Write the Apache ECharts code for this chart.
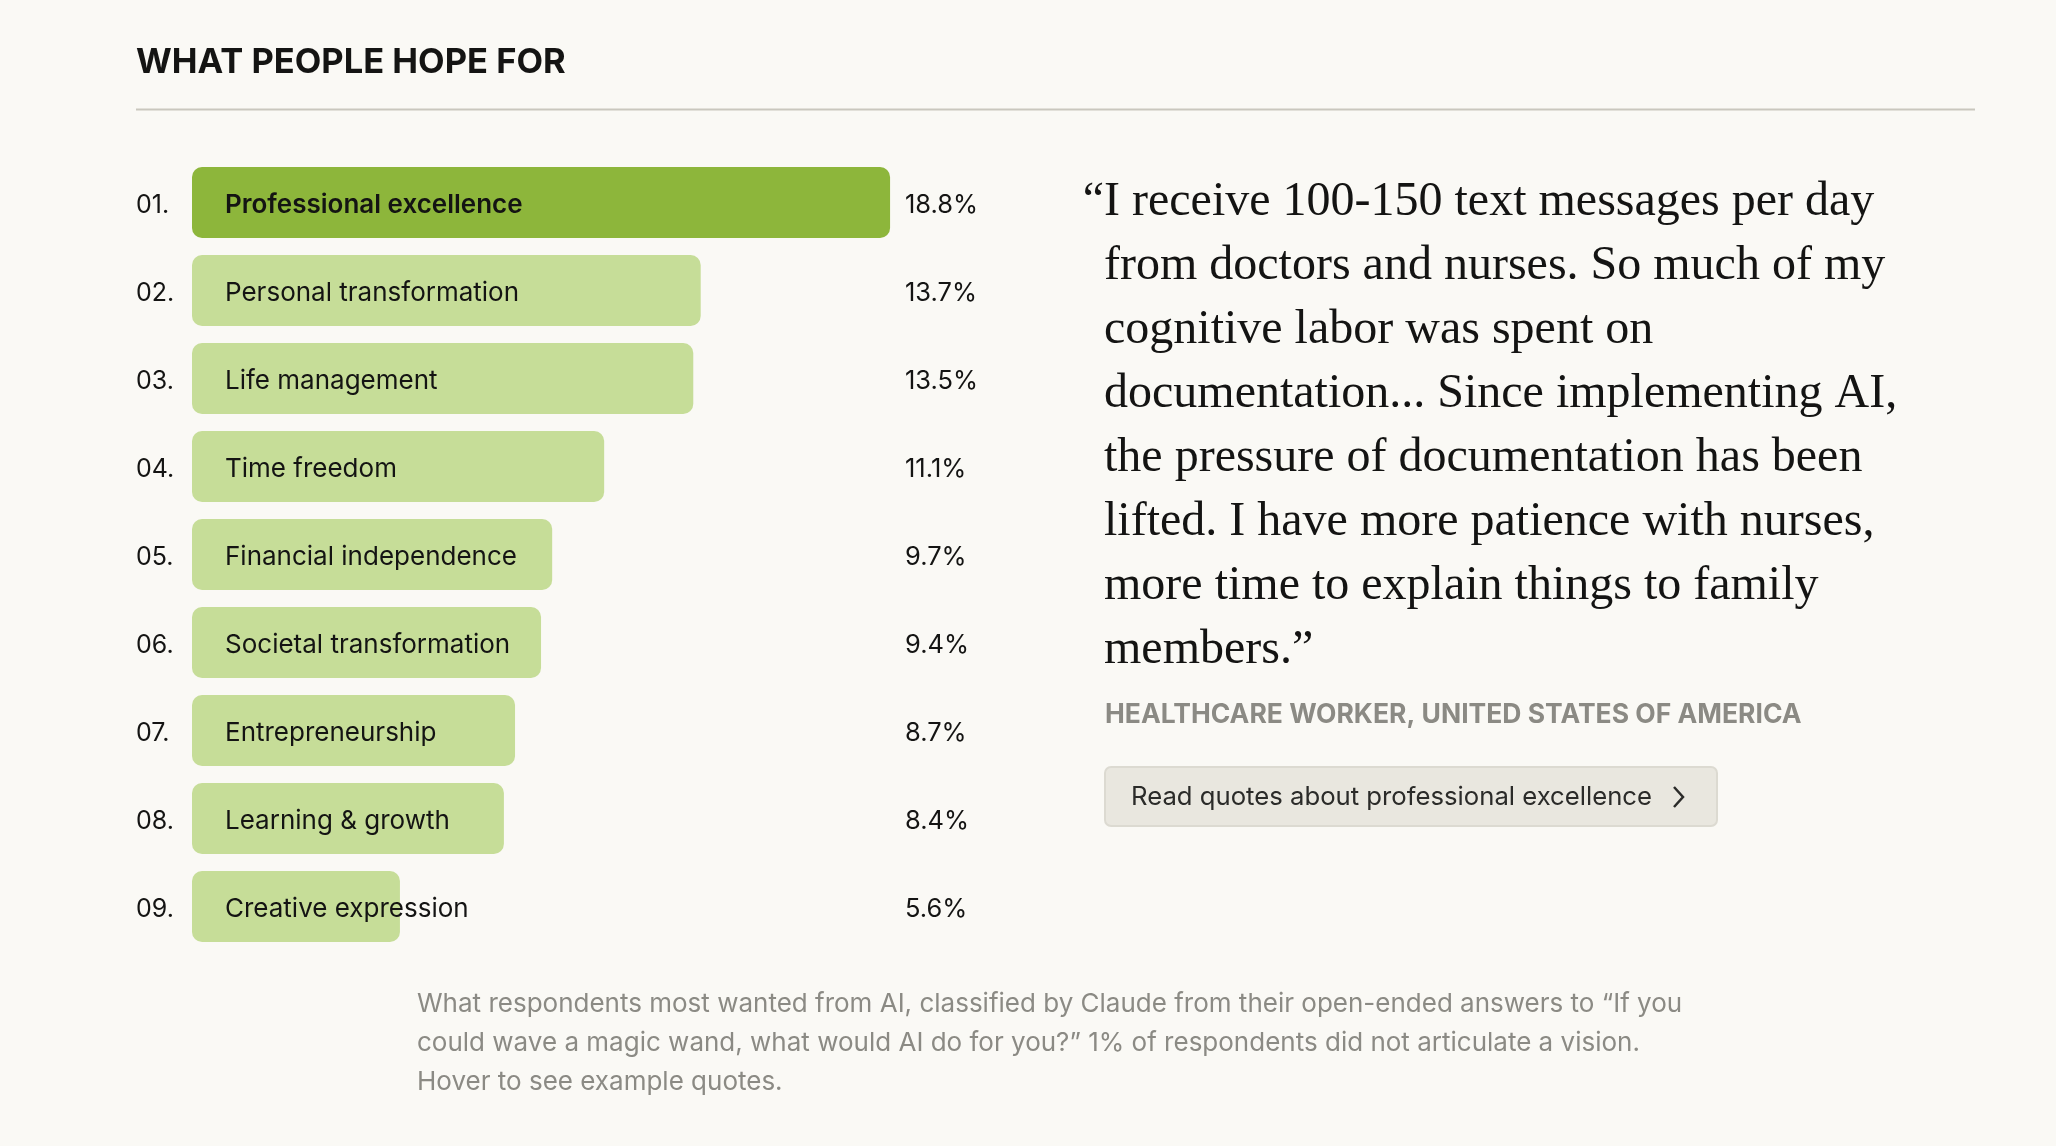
<!DOCTYPE html>
<html>
<head>
<meta charset="utf-8">
<script src="https://cdn.jsdelivr.net/npm/echarts@6/dist/echarts.min.js"></script>
<style>
html,body{margin:0;padding:0;background:#faf9f5;}
#chart{width:2056px;height:1146px;}
</style>
</head>
<body>
<div id="chart"></div>
<script>
const ranks = ['01.', '02.', '03.', '04.', '05.', '06.', '07.', '08.', '09.'];
const categories = ['Professional excellence', 'Personal transformation', 'Life management', 'Time freedom', 'Financial independence', 'Societal transformation', 'Entrepreneurship', 'Learning & growth', 'Creative expression'];
const values = [18.8, 13.7, 13.5, 11.1, 9.7, 9.4, 8.7, 8.4, 5.6];
const valueLabels = values.map(v => v.toFixed(1) + '%');
const titleText = 'WHAT PEOPLE HOPE FOR';
const quoteLines = [
  'I receive 100-150 text messages per day',
  'from doctors and nurses. So much of my',
  'cognitive labor was spent on',
  'documentation... Since implementing AI,',
  'the pressure of documentation has been',
  'lifted. I have more patience with nurses,',
  'more time to explain things to family',
  'members.\u201d'
];
const attribution = 'HEALTHCARE WORKER, UNITED STATES OF AMERICA';
const buttonText = 'Read quotes about professional excellence';
const captionLines = [
  'What respondents most wanted from AI, classified by Claude from their open-ended answers to \u201cIf you',
  'could wave a magic wand, what would AI do for you?\u201d 1% of respondents did not articulate a vision.',
  'Hover to see example quotes.'
];

const SANS = 'Inter, "Noto Sans", sans-serif';
const SERIF = '"Liberation Serif", "DejaVu Serif", serif';
const DARK = '#141413';
const GRAY = '#8b8a84';

const chart = echarts.init(document.getElementById('chart'), null, {renderer: 'canvas'});

const option = {
  backgroundColor: '#faf9f5',
  animation: false,
  grid: {left: 192, top: 158.5, width: 705.5, height: 792, containLabel: false},
  xAxis: {type: 'value', min: 0, max: 19, show: false},
  yAxis: [
    {
      type: 'category', data: ranks, inverse: true, position: 'left',
      axisLine: {show: false}, axisTick: {show: false}, splitLine: {show: false},
      axisLabel: {
        align: 'left', margin: 56, formatter: v => '{a|' + v + '}',
        rich: {a: {color: DARK, fontFamily: SANS, fontSize: 25, padding: [5, 0, 0, 0]}}
      }
    },
    {
      type: 'category', data: valueLabels, inverse: true, position: 'right',
      axisLine: {show: false}, axisTick: {show: false}, splitLine: {show: false},
      axisLabel: {
        align: 'left', margin: 7.5, formatter: v => '{a|' + v + '}',
        rich: {a: {color: DARK, fontFamily: SANS, fontSize: 25.5, padding: [5, 0, 0, 0]}}
      }
    }
  ],
  series: [{
    type: 'bar',
    yAxisIndex: 0,
    barWidth: 71,
    data: values.map((v, i) => ({
      value: v,
      name: categories[i],
      itemStyle: {color: i === 0 ? '#8db63b' : '#c6dd98', borderRadius: 10},
      label: {fontWeight: i === 0 ? 600 : 400}
    })),
    label: {
      show: true, position: 'insideLeft', distance: 33, offset: [0, 2.5],
      formatter: p => p.name, color: DARK, fontFamily: SANS, fontSize: 26
    },
    silent: true
  }],
  graphic: [
    {type: 'text', left: 136, top: 45, style: {text: titleText, font: '700 34.5px ' + SANS, fill: DARK}},
    {type: 'line', shape: {x1: 136, y1: 109.5, x2: 1975, y2: 109.5}, style: {stroke: '#c9c7be', lineWidth: 2}},
    {type: 'text', x: 1104, y: 170, style: {text: '\u201c', font: '48px ' + SERIF, fill: DARK, align: 'right', verticalAlign: 'top', lineHeight: 64}},
    {type: 'text', x: 1104, y: 170, style: {text: quoteLines.join('\n'), font: '48px ' + SERIF, fill: DARK, align: 'left', verticalAlign: 'top', lineHeight: 64}},
    {type: 'text', x: 1105, y: 715, style: {text: attribution, font: '700 26.5px ' + SANS, fill: GRAY, align: 'left', verticalAlign: 'middle'}},
    {type: 'rect', shape: {x: 1105, y: 767, width: 612, height: 59, r: 6}, style: {fill: '#e9e7df', stroke: '#dcdad1', lineWidth: 2}},
    {type: 'text', x: 1131, y: 797, style: {text: buttonText, font: '25.7px ' + SANS, fill: '#2b2b29', align: 'left', verticalAlign: 'middle'}},
    {type: 'polyline', shape: {points: [[1674, 787], [1683, 797], [1674, 807]]}, style: {stroke: '#2b2b29', lineWidth: 2.5, fill: null}},
    {type: 'text', x: 417, y: 985, style: {text: captionLines.join('\n'), font: '26px ' + SANS, fill: GRAY, align: 'left', verticalAlign: 'top', lineHeight: 39}}
  ]
};
chart.setOption(option);
</script>
</body>
</html>
